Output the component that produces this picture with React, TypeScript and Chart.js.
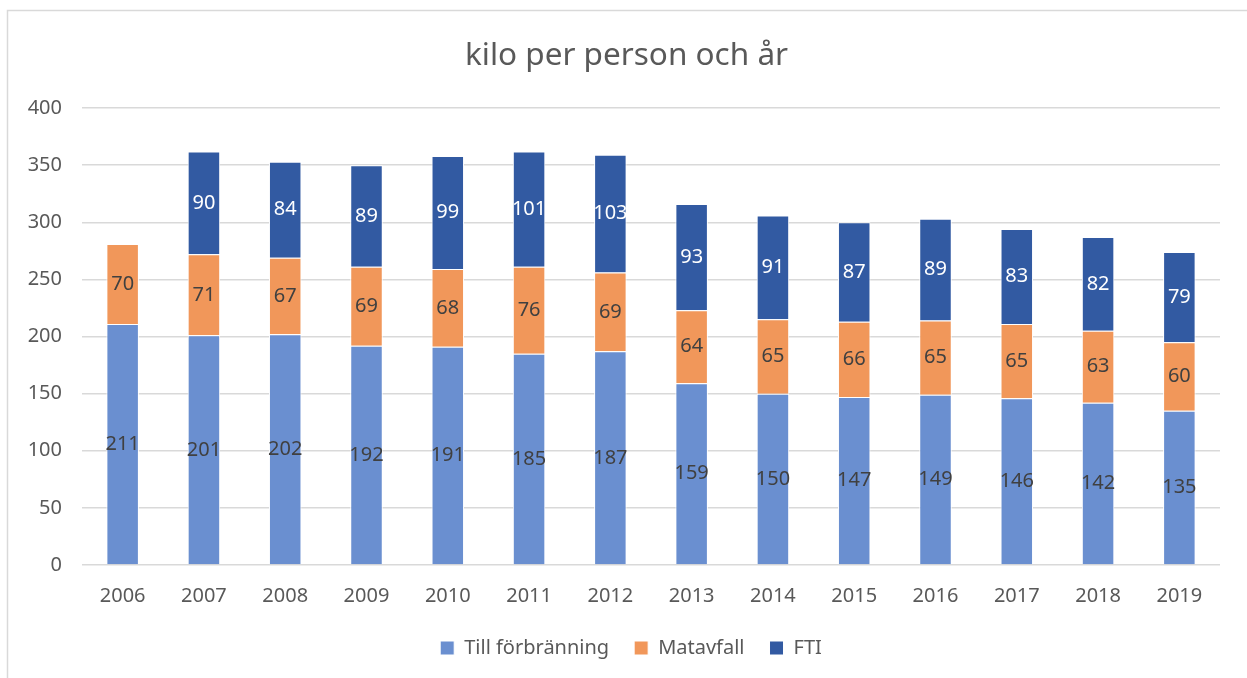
import React, { useEffect, useRef } from "react";
import { Chart, registerables } from "chart.js";

Chart.register(...registerables);

const years = ["2006", "2007", "2008", "2009", "2010", "2011", "2012", "2013", "2014", "2015", "2016", "2017", "2018", "2019"];
const tillForbranning = [211, 201, 202, 192, 191, 185, 187, 159, 150, 147, 149, 146, 142, 135];
const matavfall = [70, 71, 67, 69, 68, 76, 69, 64, 65, 66, 65, 65, 63, 60];
const fti = [0, 90, 84, 89, 99, 101, 103, 93, 91, 87, 89, 83, 82, 79];
const titleText = "kilo per person och år";

const FONT = "'Noto Sans', 'Open Sans', sans-serif";
const TEXT = "#595959";

const labelColors = ["#404040", "#404040", "#FFFFFF"];

const frame = {
  id: "frame",
  beforeLayout(chart: any) {
    const lg = chart.legend;
    if (lg && !lg._fixedHeight) {
      const orig = lg.fit.bind(lg);
      lg.fit = function () {
        orig();
        this.height = 65;
        this.bottom = this.top + 65;
      };
      lg._fixedHeight = true;
    }
  },
  afterLayout(chart: any) {
    const lg = chart.legend;
    if (lg) {
      lg.left += 17;
      lg.right += 17;
    }
  },
  beforeDraw(chart: any) {
    const ctx = chart.ctx;
    ctx.save();
    ctx.fillStyle = "#FFFFFF";
    ctx.fillRect(0, 0, chart.width, chart.height);
    ctx.strokeStyle = "#D9D9D9";
    ctx.lineWidth = 1.5;
    ctx.strokeRect(7.5, 10.5, chart.width + 20, chart.height + 20);
    ctx.fillStyle = TEXT;
    ctx.font = `31.5px ${FONT}`;
    ctx.textAlign = "center";
    ctx.textBaseline = "middle";
    ctx.fillText(titleText, chart.width / 2 + 3, 56);
    ctx.restore();
  },
};

const dataLabels = {
  id: "dataLabels",
  afterDatasetsDraw(chart: any) {
    const ctx = chart.ctx;
    ctx.save();
    ctx.font = `20px ${FONT}`;
    ctx.textAlign = "center";
    ctx.textBaseline = "middle";
    chart.data.datasets.forEach((ds: any, i: number) => {
      const meta = chart.getDatasetMeta(i);
      meta.data.forEach((el: any, j: number) => {
        const v = ds.data[j];
        if (!v) return;
        const { x, y, base } = el.getProps(["x", "y", "base"], true);
        ctx.fillStyle = labelColors[i];
        ctx.fillText(String(v), x, (y + base) / 2);
      });
    });
    ctx.restore();
  },
};

export default function App() {
  const ref = useRef<HTMLCanvasElement>(null);
  useEffect(() => {
    if (!ref.current) return;
    const chart = new Chart(ref.current, {
      type: "bar",
      data: {
        labels: years,
        datasets: [
          { label: "Till förbränning", data: tillForbranning, backgroundColor: "#6A8FD0", borderColor: "#FFFFFF", borderWidth: 1 },
          { label: "Matavfall", data: matavfall, backgroundColor: "#F1975A", borderColor: "#FFFFFF", borderWidth: 1 },
          { label: "FTI", data: fti, backgroundColor: "#325AA2", borderColor: "#FFFFFF", borderWidth: 1 },
        ],
      },
      options: {
        animation: false,
        responsive: false,
        maintainAspectRatio: false,
        layout: { padding: { left: 8, right: 27, top: 108, bottom: 0 } },
        datasets: { bar: { barPercentage: 0.4, categoryPercentage: 1 } },
        scales: {
          x: {
            stacked: true,
            grid: { display: false, drawTicks: false },
            border: { display: false },
            ticks: { color: TEXT, font: { family: FONT, size: 20 }, padding: 19, maxRotation: 0 },
            afterFit(scale: any) { scale.height = 48; },
          },
          y: {
            stacked: true,
            min: 0,
            max: 400,
            ticks: { stepSize: 50, color: TEXT, font: { family: FONT, size: 20 }, padding: 20 },
            grid: { color: "#D9D9D9", lineWidth: 1.5, drawTicks: false },
            border: { display: false },
            afterFit(scale: any) { scale.width = 74; },
          },
        },
        plugins: {
          title: { display: false },
          legend: {
            position: "bottom",
            labels: { color: TEXT, font: { family: FONT, size: 20 }, boxWidth: 14, boxHeight: 14, padding: 25 },
          },
          tooltip: { enabled: false },
        },
      },
      plugins: [frame, dataLabels],
    });
    return () => chart.destroy();
  }, []);
  return (
    <div style={{ position: "fixed", left: 0, top: 0, width: 1247, height: 678 }}>
      <canvas ref={ref} width={1247} height={678} style={{ display: "block" }} />
    </div>
  );
}
